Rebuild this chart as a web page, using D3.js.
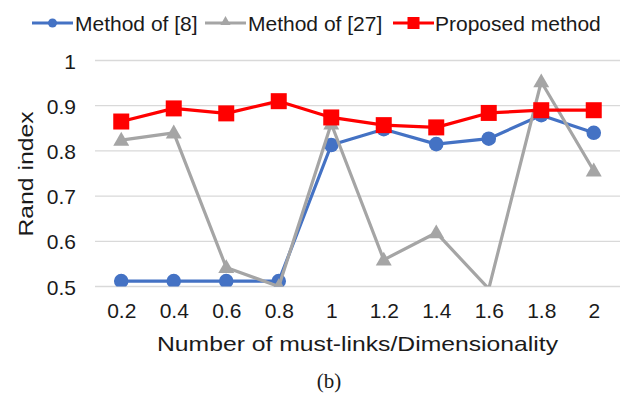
<!DOCTYPE html>
<html>
<head>
<meta charset="utf-8">
<script src="https://cdn.jsdelivr.net/npm/d3@7/dist/d3.min.js"></script>
<style>
  html, body { margin: 0; padding: 0; background: #fff; }
  svg { display: block; }
  text { font-family: "Liberation Sans", Arial, sans-serif; fill: #1a1a1a; }
</style>
</head>
<body>
<svg id="chart" width="623" height="394"></svg>
<script>
// Ratio of must-links to dimensionality
const categories = ["0.2", "0.4", "0.6", "0.8", "1", "1.2", "1.4", "1.6", "1.8", "2"];
const yTicks = [0.5, 0.6, 0.7, 0.8, 0.9, 1];

// Rand index per method
const method8  = [0.512, 0.512, 0.512, 0.512, 0.813, 0.848, 0.815, 0.827, 0.879, 0.840];
const method27 = [0.824, 0.840, 0.542, 0.500, 0.860, 0.559, 0.619, 0.495, 0.953, 0.756];
const proposed = [0.865, 0.894, 0.883, 0.910, 0.874, 0.857, 0.852, 0.884, 0.890, 0.890];

const seriesNames = ["Method of [8]", "Method of [27]", "Proposed method"];

const series = [
  { name: seriesNames[0], values: method8,  color: "#4472c4", marker: "circle" },
  { name: seriesNames[1], values: method27, color: "#a5a5a5", marker: "triangle" },
  { name: seriesNames[2], values: proposed, color: "#ff0000", marker: "square" }
];

const svg = d3.select("#chart");
const plot = { left: 95, right: 620, top: 60.5, bottom: 286.5 };

const x = d3.scalePoint().domain(categories).range([plot.left, plot.right]).padding(0.5);
const y = d3.scaleLinear().domain([0.5, 1]).range([plot.bottom, plot.top]);

// Horizontal gridlines
svg.append("g")
  .selectAll("line")
  .data(yTicks)
  .join("line")
  .attr("x1", plot.left).attr("x2", plot.right)
  .attr("y1", d => y(d)).attr("y2", d => y(d))
  .attr("stroke", "#d9d9d9").attr("stroke-width", 1.3);

// Y axis labels
const yAxis = d3.axisLeft(y).tickValues(yTicks).tickSize(0).tickPadding(0)
  .tickFormat(d => d3.format("")(+d.toFixed(1)));
svg.append("g")
  .attr("transform", `translate(76,0)`)
  .call(yAxis)
  .call(g => g.select(".domain").remove())
  .selectAll("text")
  .attr("font-family", "Liberation Sans, Arial, sans-serif")
  .attr("font-size", 21).attr("fill", "#1a1a1a").attr("dy", "0.36em");

// X axis labels
const xAxis = d3.axisBottom(x).tickSize(0).tickPadding(0);
svg.append("g")
  .attr("transform", `translate(0,303)`)
  .call(xAxis)
  .call(g => g.select(".domain").remove())
  .selectAll("text")
  .attr("font-family", "Liberation Sans, Arial, sans-serif")
  .attr("font-size", 21).attr("fill", "#1a1a1a").attr("dy", "0.72em");

// Axis titles
svg.append("text")
  .attr("x", 357.5).attr("y", 350.5)
  .attr("text-anchor", "middle")
  .attr("font-size", 21)
  .attr("textLength", 401).attr("lengthAdjust", "spacingAndGlyphs")
  .text("Number of must-links/Dimensionality");

svg.append("text")
  .attr("transform", "translate(33,174) rotate(-90)")
  .attr("text-anchor", "middle")
  .attr("font-size", 21)
  .attr("textLength", 125).attr("lengthAdjust", "spacingAndGlyphs")
  .text("Rand index");

// Caption
svg.append("text")
  .attr("x", 329).attr("y", 388)
  .attr("text-anchor", "middle")
  .style("font-family", "'Liberation Serif', 'Times New Roman', serif")
  .attr("font-size", 21)
  .text("(b)");

// Clip to plot area
svg.append("clipPath").attr("id", "plotClip")
  .append("rect")
  .attr("x", plot.left - 20).attr("y", plot.top - 20)
  .attr("width", plot.right - plot.left + 40)
  .attr("height", plot.bottom - plot.top + 20);

function drawMarker(g, type, cx, cy, color) {
  if (type === "circle") {
    g.append("circle").attr("cx", cx).attr("cy", cy).attr("r", 7.3).attr("fill", color);
  } else if (type === "square") {
    g.append("rect").attr("x", cx - 8).attr("y", cy - 8).attr("width", 16).attr("height", 16).attr("fill", color);
  } else {
    const s = d3.symbol().type(d3.symbolTriangle).size(110);
    g.append("path").attr("transform", `translate(${cx},${cy + 1})`).attr("d", s()).attr("fill", color);
  }
}

const line = d3.line().x((d, i) => x(categories[i])).y(d => y(d));
const marks = svg.append("g").attr("clip-path", "url(#plotClip)");

series.forEach(s => {
  const g = marks.append("g");
  g.append("path")
    .datum(s.values)
    .attr("d", line)
    .attr("fill", "none")
    .attr("stroke", s.color)
    .attr("stroke-width", 3.2)
    .attr("stroke-linejoin", "round");
  s.values.forEach((v, i) => {
    if (v >= y.domain()[0]) drawMarker(g, s.marker, x(categories[i]), y(v), s.color);
  });
});

// Legend
const legendItems = [
  { x: 32, textX: 75 },
  { x: 205, textX: 248 },
  { x: 393, textX: 435 }
];
const legend = svg.append("g");
series.forEach((s, i) => {
  const li = legendItems[i];
  legend.append("line")
    .attr("x1", li.x).attr("x2", li.x + 41)
    .attr("y1", 23).attr("y2", 23)
    .attr("stroke", s.color).attr("stroke-width", 3.2);
  const mg = legend.append("g");
  if (s.marker === "circle") {
    mg.append("circle").attr("cx", li.x + 20.5).attr("cy", 23).attr("r", 4.5).attr("fill", s.color);
  } else if (s.marker === "square") {
    mg.append("rect").attr("x", li.x + 14.5).attr("y", 17).attr("width", 12).attr("height", 12).attr("fill", s.color);
  } else {
    mg.append("path").attr("transform", `translate(${li.x + 20.5},22)`)
      .attr("d", d3.symbol().type(d3.symbolTriangle).size(45)()).attr("fill", s.color);
  }
  legend.append("text")
    .attr("x", li.textX).attr("y", 31)
    .attr("font-size", 21)
    .text(s.name);
});
</script>
</body>
</html>
